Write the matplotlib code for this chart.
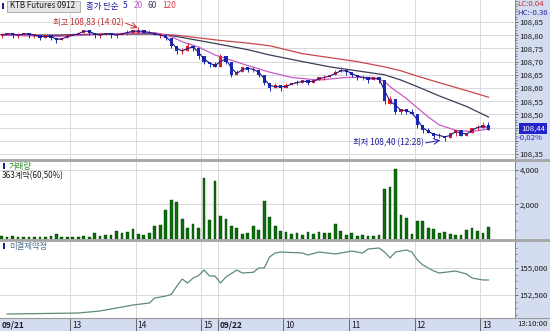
import numpy as np
import matplotlib
matplotlib.use('Agg')
import matplotlib.pyplot as plt
from matplotlib.lines import Line2D
from matplotlib.patches import Rectangle
from matplotlib.ticker import FixedLocator, MultipleLocator

plt.rcParams['font.family'] = ['Noto Sans CJK KR', 'DejaVu Sans']

# KTB Futures 0912, 5분봉 (09/21 12:00 ~ 09/22 13:10)
opens = [108.80, 108.80, 108.81, 108.80, 108.80, 108.81, 108.80, 108.80, 108.79, 108.80,
         108.79, 108.78, 108.79, 108.80, 108.80, 108.81, 108.82, 108.81, 108.80, 108.80,
         108.81, 108.80, 108.80, 108.81, 108.81, 108.81, 108.82, 108.81, 108.81, 108.80,
         108.80, 108.79, 108.76, 108.74, 108.74, 108.76, 108.75, 108.72, 108.70, 108.69,
         108.68, 108.72, 108.70, 108.65, 108.66, 108.68, 108.67, 108.67, 108.65, 108.62,
         108.60, 108.61, 108.60, 108.61, 108.62, 108.62, 108.63, 108.62, 108.63, 108.64,
         108.64, 108.65, 108.66, 108.67, 108.66, 108.65, 108.64, 108.64, 108.63, 108.64,
         108.63, 108.54, 108.56, 108.51, 108.52, 108.51, 108.50, 108.46, 108.44, 108.43,
         108.42, 108.42, 108.41, 108.43, 108.44, 108.42, 108.43, 108.45, 108.45, 108.46]
highs = [108.81, 108.81, 108.81, 108.81, 108.81, 108.81, 108.80, 108.80, 108.80, 108.80,
         108.79, 108.79, 108.80, 108.81, 108.81, 108.82, 108.82, 108.81, 108.81, 108.81,
         108.81, 108.81, 108.81, 108.82, 108.82, 108.83, 108.82, 108.82, 108.81, 108.81,
         108.80, 108.79, 108.76, 108.75, 108.77, 108.76, 108.75, 108.72, 108.70, 108.70,
         108.73, 108.72, 108.70, 108.67, 108.68, 108.68, 108.68, 108.67, 108.65, 108.62,
         108.62, 108.61, 108.62, 108.62, 108.63, 108.63, 108.63, 108.63, 108.64, 108.65,
         108.65, 108.67, 108.68, 108.67, 108.66, 108.65, 108.65, 108.64, 108.64, 108.64,
         108.63, 108.57, 108.56, 108.52, 108.52, 108.52, 108.50, 108.46, 108.45, 108.43,
         108.43, 108.42, 108.43, 108.44, 108.44, 108.43, 108.45, 108.46, 108.47, 108.47]
lows = [108.79, 108.80, 108.79, 108.79, 108.80, 108.79, 108.79, 108.78, 108.79, 108.78,
        108.77, 108.78, 108.79, 108.80, 108.80, 108.81, 108.80, 108.79, 108.79, 108.80,
        108.79, 108.79, 108.80, 108.80, 108.81, 108.81, 108.81, 108.81, 108.80, 108.79,
        108.78, 108.75, 108.73, 108.73, 108.74, 108.74, 108.71, 108.69, 108.68, 108.68,
        108.68, 108.69, 108.64, 108.65, 108.66, 108.66, 108.66, 108.64, 108.61, 108.59,
        108.60, 108.59, 108.60, 108.61, 108.61, 108.62, 108.61, 108.62, 108.63, 108.63,
        108.64, 108.65, 108.66, 108.65, 108.64, 108.63, 108.63, 108.62, 108.63, 108.62,
        108.54, 108.54, 108.50, 108.50, 108.50, 108.50, 108.45, 108.43, 108.43, 108.41,
        108.41, 108.40, 108.41, 108.42, 108.42, 108.42, 108.43, 108.44, 108.45, 108.44]
closes = [108.80, 108.81, 108.80, 108.80, 108.81, 108.80, 108.80, 108.79, 108.80, 108.79,
          108.78, 108.79, 108.80, 108.80, 108.81, 108.82, 108.81, 108.80, 108.80, 108.81,
          108.80, 108.80, 108.81, 108.81, 108.82, 108.82, 108.81, 108.81, 108.80, 108.80,
          108.79, 108.76, 108.74, 108.74, 108.76, 108.75, 108.72, 108.70, 108.69, 108.68,
          108.72, 108.70, 108.65, 108.66, 108.68, 108.67, 108.67, 108.65, 108.62, 108.60,
          108.61, 108.60, 108.61, 108.62, 108.62, 108.63, 108.62, 108.63, 108.64, 108.64,
          108.65, 108.66, 108.67, 108.66, 108.65, 108.64, 108.64, 108.63, 108.64, 108.63,
          108.55, 108.56, 108.51, 108.52, 108.51, 108.50, 108.46, 108.44, 108.43, 108.42,
          108.42, 108.41, 108.43, 108.44, 108.42, 108.43, 108.45, 108.45, 108.46, 108.44]

volume = [120, 80, 150, 60, 100, 90, 70, 110, 60, 140,
          250, 90, 70, 100, 60, 120, 90, 300, 150, 200,
          230, 450, 300, 380, 550, 250, 200, 350, 740, 780,
          1680, 2250, 2140, 1160, 640, 830, 640, 3500, 1050, 3370,
          1320, 1160, 700, 640, 250, 300, 740, 500, 2200, 1280,
          740, 450, 390, 250, 350, 200, 390, 250, 390, 350,
          350, 830, 450, 200, 310, 150, 230, 150, 120, 180,
          2900, 3030, 4040, 1360, 1190, 250, 1030, 1030, 640, 540,
          300, 390, 250, 200, 200, 480, 640, 450, 300, 680]

# 이동평균
ma20_bar = [0, 10, 20, 28, 31, 33, 36, 39, 42, 45, 49, 53, 58, 63, 68, 70, 71, 72, 74, 76, 78, 80, 83, 86, 89]
ma20_val = [108.80, 108.795, 108.805, 108.81, 108.795, 108.775, 108.755, 108.725, 108.705, 108.685,
            108.66, 108.64, 108.63, 108.64, 108.64, 108.625, 108.605, 108.59, 108.56, 108.525,
            108.49, 108.46, 108.44, 108.435, 108.445]
ma60_bar = [0, 10, 20, 28, 32, 36, 40, 45, 49, 55, 60, 65, 70, 73, 76, 80, 85, 89]
ma60_val = [108.80, 108.80, 108.805, 108.805, 108.795, 108.78, 108.765, 108.745, 108.725,
            108.70, 108.68, 108.665, 108.65, 108.63, 108.605, 108.57, 108.53, 108.49]
ma120_bar = [0, 10, 20, 28, 32, 36, 40, 45, 49, 55, 60, 65, 70, 73, 76, 80, 85, 89]
ma120_val = [108.80, 108.80, 108.805, 108.805, 108.80, 108.79, 108.78, 108.77, 108.76,
             108.73, 108.715, 108.70, 108.68, 108.665, 108.645, 108.62, 108.59, 108.565]

# 미결제약정
oi_bar = [1, 14, 18, 22, 24, 27, 28, 30, 31, 32, 33, 34, 35, 36, 37, 38, 39, 40, 41, 43, 44, 46,
          47, 48, 49, 50, 51, 55, 56, 58, 61, 64, 66, 67, 69, 70, 71, 72, 74, 75, 76, 77, 79,
          80, 83, 85, 86, 88, 89]
oi_val = [150740, 150830, 151020, 151390, 151570, 151760, 152220, 152400, 152550, 153300,
          153980, 153610, 154070, 154300, 154810, 154260, 154260, 153610, 154170, 154810,
          154540, 154600, 155000, 155000, 156020, 156390, 156480, 156390, 156200, 156480,
          156300, 156570, 156390, 156760, 156850, 156480, 155930, 156480, 156670, 156480,
          155740, 155280, 154720, 154540, 154720, 154440, 154070, 153890, 153890]

tick_pos = [0, 13, 25, 37, 40, 52, 64, 76, 88]
tick_lab = ['09/21', '13', '14', '15', '09/22', '10', '11', '12', '13']

W, H = 550, 331
UP, DOWN = '#e8202a', '#1c28b8'
GRID = '#d9d9d9'
STRIP = '#d4dcef'
FS = 6.0      # 일반 글자
TFS = 5.6     # 축 눈금 글자


def box(x0, y0, x1, y1):
    return [x0 / W, 1 - y1 / H, (x1 - x0) / W, (y1 - y0) / H]


def ft(x, y, s, **kw):
    kw.setdefault('fontsize', FS)
    kw.setdefault('va', 'center')
    return fig.text(x / W, 1 - y / H, s, **kw)


def marker(x, y):
    # 패널 제목 앞의 작은 파란 막대
    fig.add_artist(Rectangle((x / W, 1 - (y + 3) / H), 2 / W, 6 / H, transform=fig.transFigure,
                             facecolor='#1c1c9c', edgecolor='none'))


def fmt(v):
    return f"{v:.2f}".replace('.', ',')


fig = plt.figure(figsize=(W / 100, H / 100), dpi=100)
fig.patch.set_facecolor(STRIP)

ax_p = fig.add_axes(box(0, 0, 515, 159))
ax_v = fig.add_axes(box(0, 161, 515, 239), sharex=ax_p)
ax_o = fig.add_axes(box(0, 241, 515, 318), sharex=ax_p)
ax_t = fig.add_axes(box(0, 318, 515, 331), sharex=ax_p)

for ax in (ax_p, ax_v, ax_o):
    ax.set_facecolor('white')
    for s in ('top', 'left', 'bottom'):
        ax.spines[s].set_visible(False)
    ax.spines['right'].set_color('#8a8a8a')
    ax.spines['right'].set_linewidth(0.7)
    ax.yaxis.tick_right()
    ax.tick_params(axis='x', bottom=False, labelbottom=False)
    ax.tick_params(axis='y', which='major', direction='out', length=2.5, width=0.6,
                   colors='#555555', labelcolor='#1a1a1a', labelsize=TFS, pad=0.8)
    ax.tick_params(axis='y', which='minor', direction='out', length=1.3, width=0.5, colors='#555555')
    ax.grid(True, axis='y', color=GRID, lw=0.7)
    for p in tick_pos[1:]:
        ax.axvline(p, color=GRID, lw=0.7, zorder=0)
    ax.set_axisbelow(True)

ax_p.set_xlim(0.2, 0.2 + 515 / 5.47)

# --- price panel ---
x = np.arange(len(closes)) + 0.5
o = np.array(opens)
c = np.array(closes)
prev = np.r_[c[0], c[:-1]]
cols = np.where(c > o, UP, np.where(c < o, DOWN, np.where(c >= prev, UP, DOWN)))
ax_p.vlines(x, lows, highs, colors=cols, lw=0.7, zorder=3)
ax_p.bar(x, np.maximum(np.abs(c - o), 0.003), bottom=np.minimum(o, c), width=0.6,
         color=cols, linewidth=0, zorder=3)
ax_p.plot(np.array(ma120_bar) + 0.5, ma120_val, color='#c8464a', lw=0.9, zorder=2)
ax_p.plot(np.array(ma60_bar) + 0.5, ma60_val, color='#3c3c58', lw=0.9, zorder=2)
ax_p.plot(np.array(ma20_bar) + 0.5, ma20_val, color='#c85ac8', lw=0.9, zorder=2)
ax_p.plot(x, (o + c) / 2, color='#1a1a8c', lw=0.8, zorder=4)

price_ticks = np.round(np.arange(108.35, 108.851, 0.05), 2)
ax_p.set_ylim(108.331, 108.9333)
ax_p.yaxis.set_major_locator(FixedLocator(price_ticks))
ax_p.yaxis.set_minor_locator(MultipleLocator(0.01))
ax_p.set_yticklabels(['' if v in (108.40, 108.45) else fmt(v) for v in price_ticks])

hi_i = int(np.argmax(highs))
lo_i = int(np.argmin(lows))
ax_p.annotate('', xy=(hi_i + 0.4, highs[hi_i] - 0.002), xytext=(hi_i - 1.8, 108.845),
              arrowprops=dict(arrowstyle='->', color='#c03030', lw=0.7, shrinkA=0, shrinkB=0))
ax_p.text(hi_i - 2.2, 108.846, '최고 108,83 (14:02)', color='#c03030', fontsize=FS,
          ha='right', va='center')
ax_p.annotate('', xy=(lo_i - 0.3, lows[lo_i] + 0.002), xytext=(lo_i - 3.0, 108.392),
              arrowprops=dict(arrowstyle='->', color='#1c1c9c', lw=0.7, shrinkA=0, shrinkB=0))
ax_p.text(lo_i - 3.3, 108.392, '최저 108,40 (12:28)', color='#1c1c9c', fontsize=FS,
          ha='right', va='center')

# --- volume panel ---
ax_v.bar(x, volume, width=0.5, color='#0b6e0b', edgecolor='#054005', linewidth=0.3, zorder=3)
ax_v.set_ylim(-29, 4519)
ax_v.yaxis.set_major_locator(FixedLocator([2000, 4000]))
ax_v.yaxis.set_minor_locator(MultipleLocator(500))
ax_v.set_yticklabels(['2,000', '4,000'])

# --- open interest panel ---
ax_o.plot(np.array(oi_bar) + 0.5, oi_val, color='#5e8c78', lw=0.9, zorder=3)
ax_o.set_ylim(150370, 157500)
ax_o.yaxis.set_major_locator(FixedLocator([152500, 155000]))
ax_o.yaxis.set_minor_locator(MultipleLocator(625))
ax_o.set_yticklabels(['152,500', '155,000'])

# --- time strip ---
ax_t.set_facecolor(STRIP)
ax_t.set_ylim(0, 1)
ax_t.set_yticks([])
ax_t.tick_params(axis='x', bottom=False, labelbottom=False)
for s in ('left', 'bottom', 'right'):
    ax_t.spines[s].set_visible(False)
ax_t.spines['top'].set_color('#9a9a9a')
ax_t.spines['top'].set_linewidth(0.8)
for p, lab in zip(tick_pos, tick_lab):
    if p > 0:
        ax_t.axvline(p, color='#6a6a6a', lw=0.7)
    ax_t.text(max(p, 0.2) + 0.35, 0.45, lab, fontsize=FS, va='center', ha='left', color='#1a1a2a',
              fontweight='bold' if '/' in lab else 'normal')
ft(517, 324.5, '13:10:00', color='#1a1a1a', fontsize=TFS)
fig.add_artist(Line2D([515 / W, 550 / W], [1 - 318 / H] * 2, color='#9a9a9a', lw=0.8))

# panel separators
for yy in (160, 240):
    fig.add_artist(Line2D([0, 1], [1 - yy / H] * 2, color='#a6a6a6', lw=2.0))

# header / labels
fig.add_artist(Rectangle((7 / W, 1 - 11.5 / H), 73 / W, 11 / H, transform=fig.transFigure,
                         facecolor='#e6e6e6', edgecolor='#a8a8a8', lw=0.6))
marker(2, 6)
ft(9.5, 6, 'KTB Futures 0912', color='#1a1a1a', fontsize=5.8)
ft(86, 6, '종가 단순', color='#1c1c9c')
ft(123, 6, '5', color='#1c1c9c')
ft(134, 6, '20', color='#c85ac8')
ft(148, 6, '60', color='#3c3c58')
ft(162, 6, '120', color='#c8464a')

ft(517, 4, 'LC:0.04', color='#c83232', fontsize=TFS)
ft(517, 13, 'HC:-0.36', color='#2a2aa0', fontsize=TFS)
ft(533, 128.5, '108,44', color='white', ha='center', fontsize=TFS,
   bbox=dict(boxstyle='square,pad=0.2', facecolor='#2424c8', edgecolor='none'))
ft(518, 137.5, '-0,02%', color='#2424c8', fontsize=TFS)

marker(3, 166)
ft(9, 166, '거래량', color='#2e8b2e')
ft(2, 175.5, '363계약(60,50%)', color='#1a1a1a', fontsize=5.8)
marker(3, 246)
ft(9, 246, '미결제약정', color='#4a6f8f')

fig.savefig('out.png', dpi=100, facecolor=fig.get_facecolor())
